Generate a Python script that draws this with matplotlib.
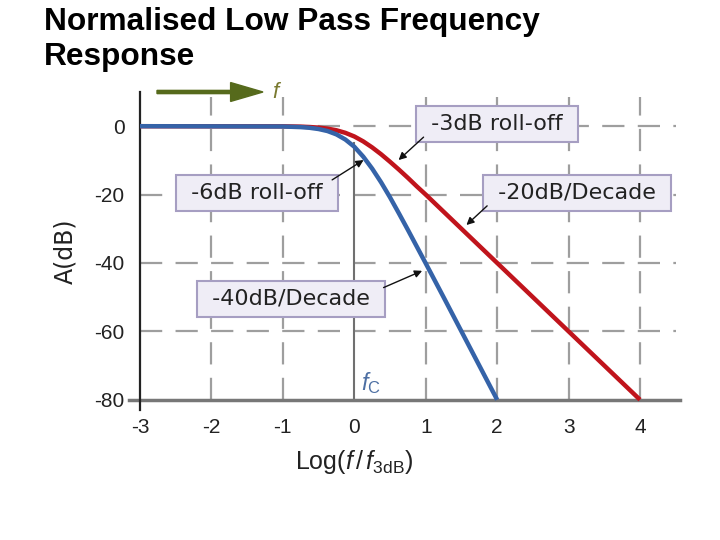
import matplotlib.pyplot as plt
from matplotlib.patches import FancyArrow

plt.rcParams['font.family'] = ['Liberation Sans', 'DejaVu Sans']
plt.rcParams['mathtext.fontset'] = 'custom'
plt.rcParams['mathtext.rm'] = 'Liberation Sans'
plt.rcParams['mathtext.it'] = 'Liberation Sans:italic'

# values
log_f = [-3, -1, -0.75, -0.625, -0.5, -0.375, -0.25, -0.125, 0, 0.125, 0.25, 0.375,
         0.5, 0.625, 0.75, 0.875, 1, 1.25, 1.5, 2, 3, 4]
first_order = [0, -0.04, -0.13, -0.24, -0.41, -0.71, -1.19, -1.94, -3.0, -4.44, -6.2, -8.2,
               -10.4, -12.7, -15.1, -17.6, -20.0, -25.0, -30.0, -40.0, -60.0, -80.0]

log_f2 = [-3, -1, -0.75, -0.625, -0.5, -0.375, -0.25, -0.125, 0, 0.125, 0.25, 0.375,
          0.5, 0.625, 0.75, 0.875, 1, 1.25, 1.5, 2]
second_order = [0, -0.09, -0.27, -0.47, -0.83, -1.42, -2.4, -3.9, -6.0, -8.9, -12.4, -16.4,
                -20.8, -25.5, -30.3, -35.2, -40.1, -50.0, -60.0, -80.0]

x_ticks = [-3, -2, -1, 0, 1, 2, 3, 4]
y_ticks = [0, -20, -40, -60, -80]

# label, arrow tip, arrow tail, box centre
annotations = [
    ("-3dB roll-off", (0.62, -9.9), (0.97, -3.2), (2.0, 0.6)),
    ("-20dB/Decade", (1.57, -28.9), (1.86, -23.3), (3.12, -19.5)),
    ("-6dB roll-off", (0.13, -9.9), (-0.31, -15.7), (-1.36, -19.5)),
    ("-40dB/Decade", (0.95, -42.3), (0.41, -47.2), (-0.88, -50.4)),
]

fig = plt.figure(figsize=(7.2, 5.4), dpi=100)
ax = fig.add_axes([140 / 720, 1 - 410 / 540, 540 / 720, 318 / 540])
ax.set_xlim(-3, 4.56)
ax.set_ylim(-83, 10)

grid_kw = dict(color="#9e9e9e", lw=1.6, ls=(0, (10, 6)), zorder=1)
for x in [-2, -1, 1, 2, 3, 4]:
    ax.plot([x, x], [-80, 8.5], **grid_kw)
for y in [0, -20, -40, -60]:
    ax.plot([-3, 4.5], [y, y], **grid_kw)
ax.plot([0, 0], [-80, -5], color="#707070", lw=1.5, zorder=2)
ax.axhline(-80, xmin=-0.02, color="#777777", lw=2.5, zorder=2, clip_on=False)

ax.plot(log_f, first_order, color="#c0141c", lw=3.2, zorder=4, solid_capstyle="butt")
ax.plot(log_f2, second_order, color="#3563a8", lw=3.2, zorder=5, solid_capstyle="butt")

for spine in ["top", "right", "bottom"]:
    ax.spines[spine].set_visible(False)
ax.spines["left"].set_linewidth(1.6)
ax.spines["left"].set_color("#222222")

ax.set_xticks(x_ticks)
ax.set_yticks(y_ticks)
ax.set_xticklabels([str(v) for v in x_ticks])
ax.set_yticklabels([str(v) for v in y_ticks])
ax.tick_params(length=0, labelsize=15, colors="#222222")
ax.tick_params(axis="x", pad=6)
ax.tick_params(axis="y", pad=11)

ax.set_ylabel("A(dB)", fontsize=17, color="#222222", labelpad=12,
              family=["DejaVu Sans"])
ax.set_xlabel(r"Log($f\,/\,f_{\rm 3dB}$)", fontsize=18, color="#222222", labelpad=8)
ax.xaxis.label.set_x(3 / 7.56)

box = dict(boxstyle="square,pad=0.36", fc="#efedf6", ec="#a69ec2", lw=1.5)
for label, tip, tail, pos in annotations:
    ax.annotate("", xy=tip, xytext=tail, zorder=7,
                arrowprops=dict(arrowstyle="-|>", color="#111111", lw=1.0,
                                mutation_scale=11, shrinkA=0, shrinkB=0))
    ax.text(pos[0], pos[1], " " + label + " ", fontsize=16, color="#222222",
            family=["DejaVu Sans"], ha="center", va="center", bbox=box, zorder=6)

ax.text(0.1, -79, r"$f_{\rm C}$", fontsize=17, color="#4d6fa3", ha="left", va="bottom")

fig.patches.append(FancyArrow(
    157 / 720, 1 - 92 / 540, 106 / 720, 0, width=0.006, head_width=0.035,
    head_length=0.045, length_includes_head=True, color="#566a1c",
    transform=fig.transFigure, figure=fig))
fig.text(272 / 720, 1 - 92 / 540, "f", fontsize=16, style="italic",
         color="#7a7a30", ha="left", va="center")

fig.text(44 / 720, 1 - 7 / 540, "Normalised Low Pass Frequency\nResponse",
         fontsize=22.8, fontweight="bold", ha="left", va="top", linespacing=1.2)

fig.savefig("out.png", dpi=100)
